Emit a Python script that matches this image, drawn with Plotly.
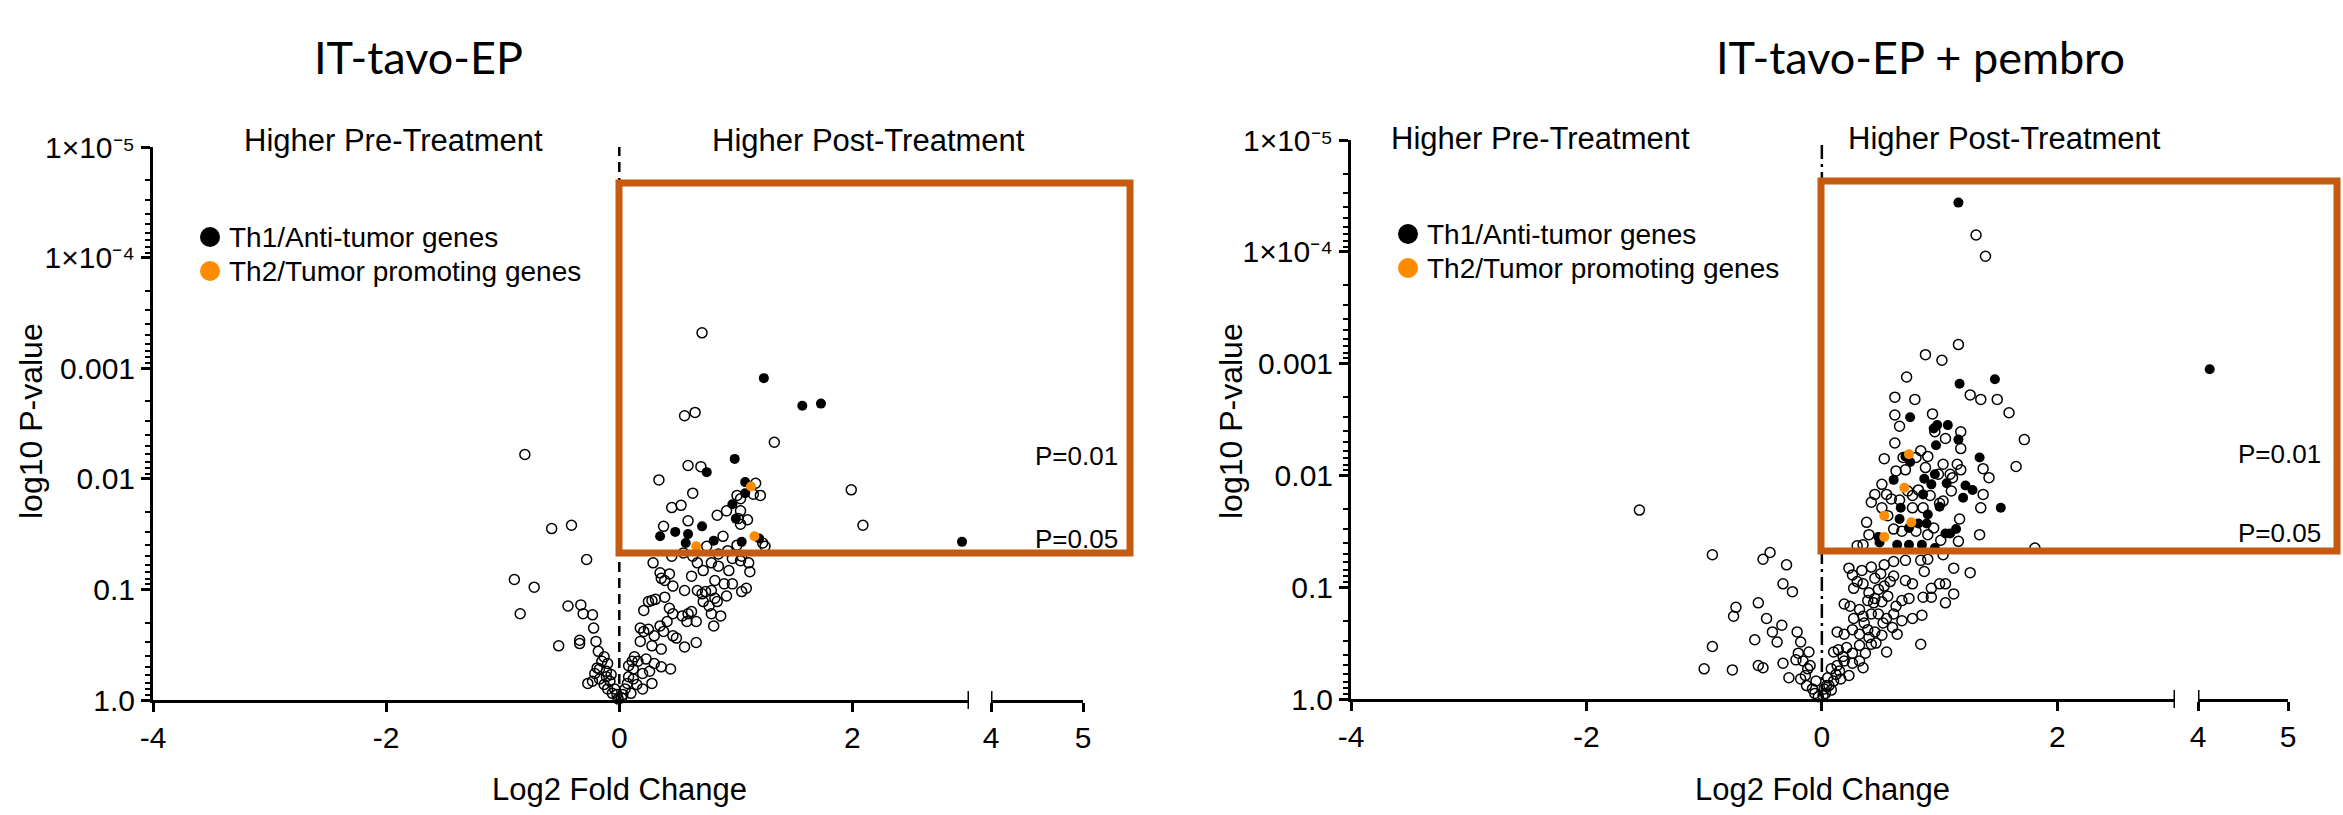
import numpy as np
import plotly.graph_objects as go

W, H = 2343, 815

# ------------------------------------------------------------------
# DATA  (log2 fold change, -log10 P-value)
# ------------------------------------------------------------------
# Panel 1: IT-tavo-EP
ep_other_log2fc = [
    -0.81, -0.58, -0.41, -0.28, -0.90, -0.73, -0.85, -0.44, -0.33, -0.31, -0.23, -0.22,
    -0.52, -0.34, -0.34, -0.20, -0.18, -0.13, -0.19, -0.17, -0.11, -0.27, -0.23, -0.17,
    -0.13, -0.10, -0.06, -0.15, -0.11, -0.08, -0.04, -0.02, -0.07, -0.10, -0.21,
    0.71, 0.56, 0.65, 1.33, 0.59, 0.70, 0.34, 0.63, 0.45, 0.53, 0.59, 0.38, 1.99, 2.09,
    1.01, 1.04, 1.21, 1.15, 1.17, 0.84, 0.92, 1.04, 1.02, 1.04, 1.10, 0.89, 0.75, 1.01,
    1.25, 1.23, 0.29, 0.35, 0.36, 0.43, 0.46, 0.39, 0.21, 0.25, 0.28, 0.31, 0.39, 0.43,
    0.46, 0.54, 0.59, 0.62, 0.58, 0.66, 0.56, 0.67, 0.71, 0.74, 0.79, 0.82, 0.92, 0.97,
    1.05, 1.09, 0.72, 0.77, 0.84, 0.79, 0.87, 0.81, 0.62, 0.67, 0.72, 0.79, 0.85, 0.94,
    0.97, 1.04, 1.11, 1.12, 0.82, 0.90, 0.18, 0.21, 0.25, 0.30, 0.35, 0.38, 0.41, 0.46,
    0.49, 0.56, 0.66, 0.36, 0.28, 0.18, 0.13, 0.16, 0.23, 0.30, 0.36, 0.44, 0.20, 0.26,
    0.12, 0.08, 0.15, 0.20, 0.28, 0.05, 0.07, 0.10, 0.03, 0.02, -0.01, 0.12, 0.08, 0.11,
    0.45, 0.55, 0.63, 0.85, 0.93, 1.05,
]
ep_other_neglog10p = [
    2.22, 1.55, 1.58, 1.27, 1.09, 1.02, 0.78, 0.85, 0.86, 0.78, 0.77, 0.65,
    0.49, 0.54, 0.51, 0.53, 0.44, 0.39, 0.29, 0.28, 0.26, 0.15, 0.17, 0.19,
    0.14, 0.10, 0.06, 0.35, 0.21, 0.17, 0.10, 0.05, 0.23, 0.33, 0.24,
    3.32, 2.57, 2.60, 2.33, 2.12, 2.11, 1.99, 1.87, 1.74, 1.76, 1.62, 1.57, 1.90, 1.58,
    1.85, 1.82, 1.85, 1.86, 1.96, 1.67, 1.71, 1.71, 1.64, 1.59, 1.63, 1.48, 1.39, 1.40,
    1.39, 1.42, 1.24, 1.15, 1.10, 1.14, 1.03, 1.08, 0.81, 0.89, 0.90, 0.91, 0.93, 0.83,
    0.78, 0.76, 0.78, 0.80, 0.71, 0.71, 0.99, 0.99, 0.96, 0.98, 0.99, 0.92, 0.94, 1.05,
    0.98, 1.01, 0.89, 0.85, 0.89, 0.78, 0.76, 0.67, 1.12, 1.24, 1.17, 1.24, 1.21, 1.17,
    1.28, 1.26, 1.24, 1.16, 1.08, 1.05, 0.65, 0.62, 0.64, 0.58, 0.67, 0.62, 0.71, 0.58,
    0.56, 0.48, 0.52, 0.46, 0.49, 0.53, 0.39, 0.35, 0.37, 0.33, 0.30, 0.28, 0.24, 0.26,
    0.28, 0.21, 0.14, 0.10, 0.15, 0.10, 0.15, 0.06, 0.05, 0.02, 0.01, 0.19, 0.31, 0.35,
    1.30, 1.33, 1.30, 1.32, 1.35, 1.30,
]
ep_th1_log2fc = [1.24, 1.57, 1.73, 0.99, 0.75, 1.08, 1.08, 0.97, 1.00, 0.71, 0.48, 0.59,
                 0.35, 0.57, 0.81, 1.05, 1.20, 2.94]
ep_th1_neglog10p = [2.91, 2.66, 2.68, 2.18, 2.06, 1.97, 1.87, 1.77, 1.64, 1.57, 1.52, 1.50,
                    1.48, 1.42, 1.44, 1.43, 1.46, 1.43]
ep_th2_log2fc = [1.13, 1.16, 0.66]
ep_th2_neglog10p = [1.93, 1.48, 1.39]

# Panel 2: IT-tavo-EP + pembro
pem_other_log2fc = [
    -1.55, -0.93, -0.50, -0.44, -0.30, -0.33, -0.25, -0.73, -0.75, -0.54, -0.47, -0.34,
    -0.42, -0.38, -0.57, -0.21, -0.18, -0.93, -1.00, -0.76, -0.54, -0.50, -0.33, -0.22,
    -0.16, -0.10, -0.12, -0.28, -0.18, -0.13, -0.08, -0.06, -0.03, -0.20, -0.11, -0.14, -0.05,
    1.31, 1.39, 1.16, 0.88, 1.02, 0.72, 0.62, 0.79, 1.26, 1.35, 1.49, 1.59, 0.62, 0.66,
    0.94, 1.18, 1.05, 0.96, 1.18, 1.72, 0.62, 0.53, 0.69, 0.80, 0.84, 0.90, 1.03, 1.15,
    1.18, 1.37, 1.42, 1.65, 0.63, 0.71, 0.88, 0.99, 1.09, 1.11, 0.51, 0.55, 0.45, 0.42,
    0.73, 0.82, 0.77, 0.92, 1.03, 1.10, 1.37, 1.35, 1.17, 0.59, 0.66, 0.77, 0.86, 1.00,
    0.51, 0.56, 0.61, 0.68, 0.80, 0.95, 0.90, 1.01, 1.16, 1.34, 0.38, 0.40, 0.30, 0.35,
    1.81,
    0.23, 0.26, 0.34, 0.42, 0.53, 0.61, 0.71, 0.84, 0.90, 1.03, 1.12, 1.26, 0.87, 0.27,
    0.35, 0.45, 0.53, 0.61, 0.71, 0.77, 0.93, 1.00, 1.05, 1.12, 0.86, 0.93, 1.05, 0.19,
    0.24, 0.32, 0.39, 0.45, 0.51, 0.56, 0.63, 0.68, 0.74, 0.27, 0.35, 0.42, 0.48, 0.55,
    0.61, 0.77, 0.85, 0.13, 0.19, 0.26, 0.32, 0.39, 0.45, 0.51, 0.64, 0.55, 0.84, 0.10,
    0.14, 0.21, 0.26, 0.32, 0.37, 0.42, 0.08, 0.13, 0.19, 0.26, 0.32, 0.35, 0.05, 0.10,
    0.16, 0.23, 0.02, 0.06,
    0.30, 0.40, 0.48, 0.58, 0.50, 0.44, 0.36, 0.52, 0.60, 0.68, 0.46, 0.40,
    0.01, 0.03, 0.04, 0.08, 0.12, 0.15, 0.18,
]
pem_other_neglog10p = [
    1.69, 1.29, 1.25, 1.31, 1.20, 1.03, 0.96, 0.82, 0.74, 0.86, 0.72, 0.66,
    0.60, 0.51, 0.53, 0.60, 0.51, 0.47, 0.27, 0.26, 0.30, 0.28, 0.32, 0.35,
    0.34, 0.30, 0.27, 0.19, 0.18, 0.12, 0.09, 0.05, 0.02, 0.41, 0.42, 0.21, 0.16,
    4.15, 3.96, 3.17, 3.08, 3.03, 2.88, 2.70, 2.68, 2.72, 2.68, 2.68, 2.56, 2.54, 2.44,
    2.55, 2.39, 2.33, 2.39, 2.24, 2.32, 2.29, 2.15, 2.16, 2.16, 2.22, 2.17, 2.10, 2.10,
    2.05, 2.06, 1.98, 2.08, 2.04, 2.05, 2.07, 2.01, 2.01, 1.98, 1.92, 1.83, 1.83, 1.76,
    1.86, 1.87, 1.82, 1.82, 1.77, 1.86, 1.83, 1.71, 1.61, 1.79, 1.78, 1.71, 1.71, 1.75,
    1.71, 1.64, 1.52, 1.50, 1.50, 1.53, 1.47, 1.42, 1.41, 1.47, 1.58, 1.47, 1.37, 1.38,
    1.35,
    1.17, 1.11, 1.15, 1.18, 1.20, 1.23, 1.24, 1.24, 1.25, 1.29, 1.17, 1.13, 1.14, 0.99,
    1.03, 1.08, 1.01, 1.10, 1.06, 1.03, 0.99, 1.03, 1.03, 0.94, 0.91, 0.91, 0.86, 0.85,
    0.83, 0.80, 0.88, 0.90, 0.87, 0.92, 0.83, 0.88, 0.90, 0.72, 0.74, 0.76, 0.76, 0.72,
    0.76, 0.72, 0.75, 0.60, 0.58, 0.62, 0.58, 0.62, 0.60, 0.57, 0.58, 0.42, 0.49, 0.42,
    0.44, 0.46, 0.41, 0.48, 0.41, 0.49, 0.27, 0.30, 0.34, 0.32, 0.34, 0.28, 0.19, 0.16,
    0.18, 0.21, 0.09, 0.12,
    1.05, 0.95, 0.98, 1.05, 1.12, 0.86, 0.68, 0.68, 0.64, 0.70, 0.50, 0.55,
    0.03, 0.05, 0.12, 0.08, 0.22, 0.25, 0.38,
]
pem_th1_log2fc = [1.16, 1.17, 1.47, 0.75, 0.95, 0.98, 1.07, 1.16, 0.97, 0.75, 0.71, 1.34,
                  0.96, 0.87, 0.61, 1.06, 0.93, 1.22, 1.28, 0.86, 1.20, 1.00, 0.67, 1.52,
                  0.90, 0.66, 0.74, 0.82, 0.89, 1.05, 1.14, 1.09, 0.48, 0.49, 0.64, 0.74,
                  0.85, 0.96, 4.13]
pem_th1_neglog10p = [4.44, 2.82, 2.86, 2.52, 2.42, 2.45, 2.45, 2.32, 2.27, 2.12, 2.17, 2.16,
                     2.01, 1.97, 1.96, 1.93, 1.92, 1.91, 1.87, 1.83, 1.80, 1.72, 1.71, 1.71,
                     1.65, 1.61, 1.53, 1.57, 1.57, 1.48, 1.52, 1.48, 1.45, 1.40, 1.38, 1.38,
                     1.38, 1.35, 2.95]
pem_th2_log2fc = [0.74, 0.70, 0.53, 0.76, 0.53]
pem_th2_neglog10p = [2.19, 1.89, 1.64, 1.58, 1.45]

# axis ticks / labels
x_main_ticks = [-4, -2, 0, 2]
x_break_ticks = [4, 5]
x_break_at = [3, 4]
y_tickvals = [1e-5, 1e-4, 1e-3, 1e-2, 1e-1, 1.0]
y_ticktext = ["1×10⁻⁵", "1×10⁻⁴", "0.001", "0.01", "0.1", "1.0"]
y_minor = [k * 10.0 ** d for d in range(-5, 0) for k in range(2, 10)]
p_thresholds = [0.01, 0.05]
threshold_labels = ["P=0.01", "P=0.05"]
legend_names = ["Th1/Anti-tumor genes", "Th2/Tumor promoting genes"]
panel_titles = ["IT-tavo-EP", "IT-tavo-EP + pembro"]

# ------------------------------------------------------------------
FONT = "Liberation Sans, Arial, Helvetica, sans-serif"
TITLE_FONT = "Lato, Open Sans, sans-serif"
ORANGE = "#FF8C00"
BOX = "#C55A11"


def px(x):
    return x / W


def py(y):
    return 1 - y / H


panels = [
    dict(xa="x", xb="x2", ya="y", yname="yaxis", xaname="xaxis", xbname="xaxis2",
         main=(153, 969), brk=(991, 1083), ydom=(147, 700), zero_px=619,
         other=(ep_other_log2fc, ep_other_neglog10p),
         th1=(ep_th1_log2fc, ep_th1_neglog10p), th2=(ep_th2_log2fc, ep_th2_neglog10p),
         zero_dash="10px,6px", p05_dash="14px,5px,3px,5px",
         title_x=418, pre_x=394, post_x=868, lab_y=140, box=(619, 1130, 183, 553),
         plabel_x=1120, plabel_y=(456, 539), ytitle_x=31, leg=(210, 237, 271)),
    dict(xa="x3", xb="x4", ya="y2", yname="yaxis2", xaname="xaxis3", xbname="xaxis4",
         main=(1351, 2175), brk=(2198, 2288), ydom=(140, 699), zero_px=1822,
         other=(pem_other_log2fc, pem_other_neglog10p),
         th1=(pem_th1_log2fc, pem_th1_neglog10p), th2=(pem_th2_log2fc, pem_th2_neglog10p),
         zero_dash="14px,5px,3px,5px", p05_dash="15px,7px",
         title_x=1920, pre_x=1540, post_x=2004, lab_y=138, box=(1821, 2337, 181, 551),
         plabel_x=2323, plabel_y=(454, 533), ytitle_x=1231, leg=(1408, 234, 268)),
]

fig = go.Figure()
layout = dict(
    template="none",
    width=W, height=H, margin=dict(l=0, r=0, t=0, b=0, pad=0, autoexpand=False),
    paper_bgcolor="white", plot_bgcolor="white", showlegend=False,
    font=dict(family=FONT, color="black", size=28),
)
shapes, annotations = [], []

for ti, P in enumerate(panels):
    def add(xs, ls, marker, name):
        xs = np.asarray(xs, float)
        pv = 10.0 ** (-np.asarray(ls, float))
        for axis, mask in ((P["xa"], xs <= 3.5), (P["xb"], xs > 3.5)):
            if mask.any():
                fig.add_trace(go.Scatter(x=xs[mask], y=pv[mask], xaxis=axis, yaxis=P["ya"],
                                         mode="markers", marker=marker, name=name,
                                         showlegend=False, cliponaxis=False))

    add(*P["other"], dict(symbol="circle-open", size=10, color="black", line=dict(width=1.5)), "Other genes")
    add(*P["th1"], dict(symbol="circle", size=10, color="black"), legend_names[0])
    add(*P["th2"], dict(symbol="circle", size=10, color=ORANGE), legend_names[1])

    common = dict(showline=True, linewidth=3, linecolor="black", ticks="outside", ticklen=9,
                  tickwidth=3, tickcolor="black", showgrid=False, zeroline=False, automargin=False,
                  tickfont=dict(family=FONT, size=30, color="black"), fixedrange=True)
    layout[P["xaname"]] = dict(domain=[px(P["main"][0]), px(P["main"][1])], range=[-4, 3], anchor=P["ya"],
                               tickmode="array", tickvals=x_main_ticks,
                               ticktext=[str(v) for v in x_main_ticks], **common)
    layout[P["xbname"]] = dict(domain=[px(P["brk"][0]), px(P["brk"][1])], range=[4, 5], anchor=P["ya"],
                               tickmode="array", tickvals=x_break_ticks,
                               ticktext=[str(v) for v in x_break_ticks], **common)
    layout[P["yname"]] = dict(domain=[py(P["ydom"][1]), py(P["ydom"][0])], type="log", range=[0, -5],
                              anchor=P["xa"], tickmode="array", tickvals=y_tickvals, ticktext=y_ticktext,
                              minor=dict(tickmode="array", tickvals=y_minor, ticks="outside", ticklen=5,
                                         tickwidth=2, tickcolor="black", showgrid=False),
                              **common)

    # axis-break end ticks (drawn across the axis line)
    ybase = py(P["ydom"][1])
    for axis, xv in zip((P["xa"], P["xb"]), x_break_at):
        shapes.append(dict(type="line", xref=axis, yref="paper", x0=xv, x1=xv, y0=ybase - 9 / H,
                           y1=ybase + 9 / H, line=dict(color="black", width=3)))
    # zero line
    shapes.append(dict(type="line", xref=P["xa"], yref="paper", x0=0, x1=0, y0=py(P["ydom"][1]),
                       y1=py(P["ydom"][0]), line=dict(color="black", width=2.5, dash=P["zero_dash"])))
    # p-value thresholds
    for pval, dash in zip(p_thresholds, ["3px,4px", P["p05_dash"]]):
        shapes.append(dict(type="line", xref="paper", yref=P["ya"], x0=px(P["main"][0]), x1=px(P["brk"][1] + 1),
                           y0=np.log10(pval), y1=np.log10(pval), line=dict(color="black", width=2.5, dash=dash)))
    # highlight box
    bx0, bx1, by0, by1 = P["box"]
    shapes.append(dict(type="rect", xref="paper", yref="paper", x0=px(bx0), x1=px(bx1), y0=py(by1), y1=py(by0),
                       line=dict(color=BOX, width=7), fillcolor="rgba(0,0,0,0)", layer="above"))

    # legend (markers + labels)
    lx, ly1, ly2 = P["leg"]
    for nm, col, ly in zip(legend_names, ["black", ORANGE], (ly1, ly2)):
        shapes.append(dict(type="circle", xref="paper", yref="paper", x0=px(lx - 10), x1=px(lx + 10),
                           y0=py(ly + 10), y1=py(ly - 10), fillcolor=col, line=dict(width=0)))
        annotations.append(dict(text=nm, x=px(lx + 17), y=py(ly), xref="paper", yref="paper", showarrow=False,
                                xanchor="left", yanchor="middle", font=dict(family=FONT, size=28)))

    # text
    annotations.append(dict(text=panel_titles[ti], x=px(P["title_x"]), y=py(57), xref="paper", yref="paper",
                            showarrow=False, xanchor="center", yanchor="middle",
                            font=dict(family=TITLE_FONT, size=45, color="black")))
    annotations.append(dict(text="Higher Pre-Treatment", x=px(P["pre_x"]), y=py(P["lab_y"]), xref="paper",
                            yref="paper", showarrow=False, xanchor="center", yanchor="middle",
                            font=dict(family=FONT, size=31)))
    annotations.append(dict(text="Higher Post-Treatment", x=px(P["post_x"]), y=py(P["lab_y"]), xref="paper",
                            yref="paper", showarrow=False, xanchor="center", yanchor="middle",
                            font=dict(family=FONT, size=31)))
    for lab, ly in zip(threshold_labels, P["plabel_y"]):
        annotations.append(dict(text=lab, x=px(P["plabel_x"]), y=py(ly), xref="paper", yref="paper",
                                showarrow=False, xanchor="right", yanchor="middle",
                                font=dict(family=FONT, size=26)))
    annotations.append(dict(text="log10 P-value", x=px(P["ytitle_x"]), y=py(421), xref="paper", yref="paper",
                            showarrow=False, textangle=-90, xanchor="center", yanchor="middle",
                            font=dict(family=FONT, size=32)))
    annotations.append(dict(text="Log2 Fold Change", x=px(P["zero_px"]), y=py(789), xref="paper", yref="paper",
                            showarrow=False, xanchor="center", yanchor="middle",
                            font=dict(family=FONT, size=31)))

layout["shapes"] = shapes
layout["annotations"] = annotations
fig.update_layout(**layout)
fig.write_html(
    "out.html",
    config={"displayModeBar": False, "staticPlot": True},
    post_script="document.body.style.margin='0';document.body.style.overflow='hidden';",
)
